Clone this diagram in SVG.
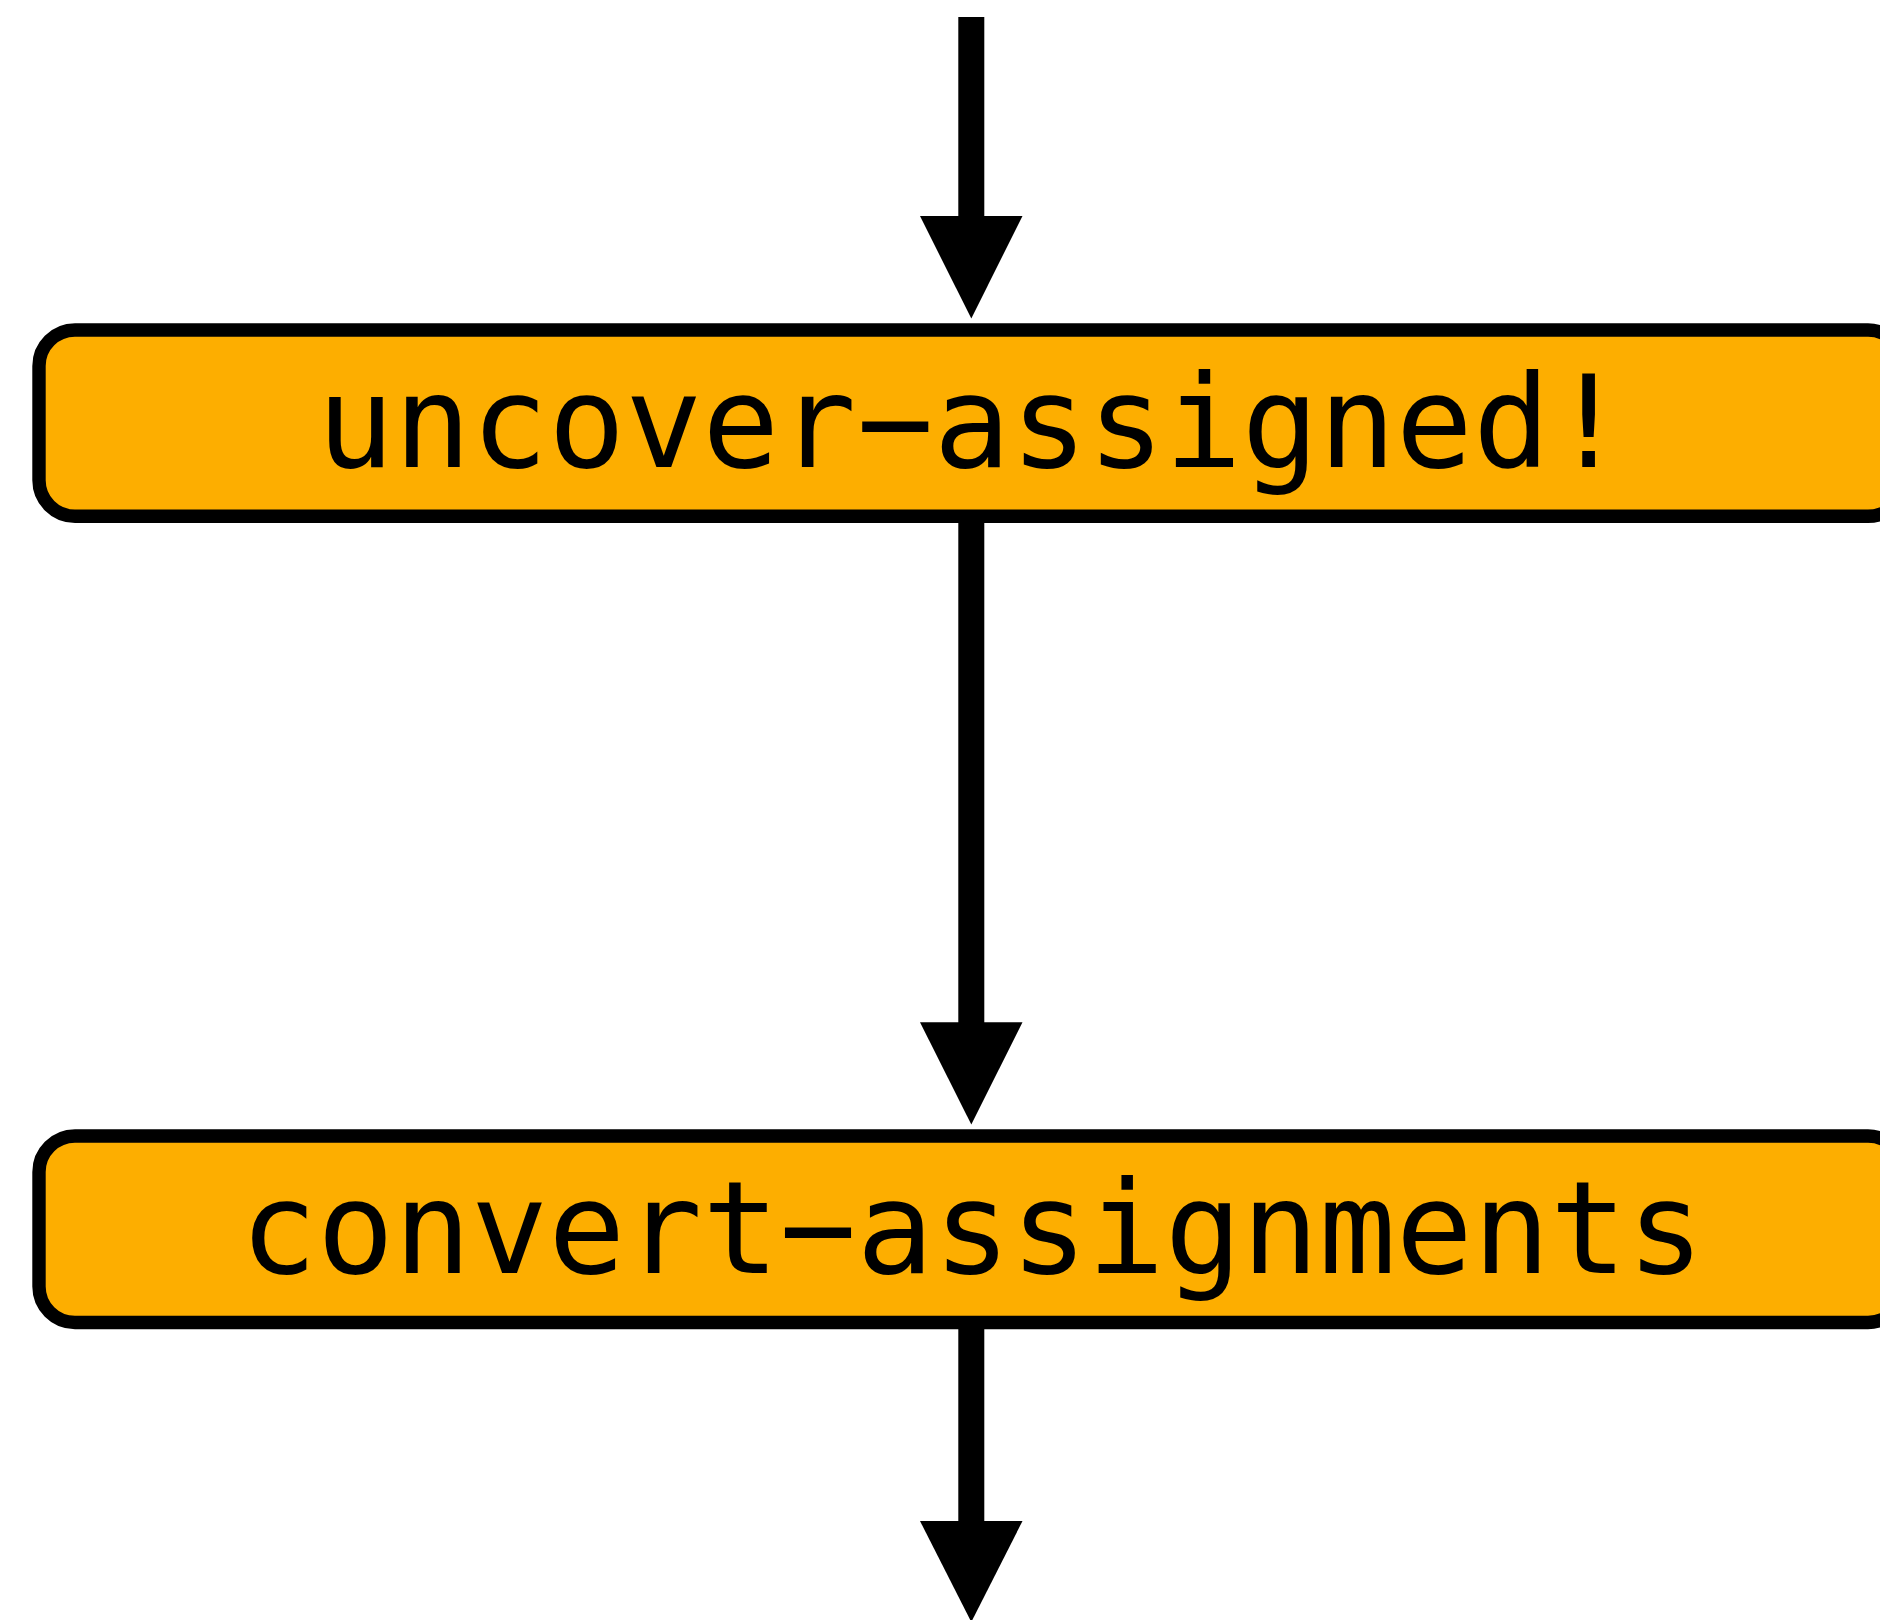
<svg xmlns="http://www.w3.org/2000/svg" width="1880" height="1620" viewBox="0 0 1880 1620">
<style>
.box{fill:#fdae00;stroke:#000;stroke-width:13.4}
.lbl{font-family:"DejaVu Sans Mono","Liberation Mono",monospace;font-size:128px;fill:#000;text-anchor:middle}
.shaft{stroke:#000;stroke-width:26;fill:none}
.head{fill:#000;stroke:none}
</style>
<rect width="1880" height="1620" fill="#fff"/>
<g id="connectors">
<line class="shaft" x1="971.3" y1="17" x2="971.3" y2="217"/>
<polygon class="head" points="920,216 1022.5,216 971.3,318.5"/>
<line class="shaft" x1="971.3" y1="516" x2="971.3" y2="1023"/>
<polygon class="head" points="920,1022.3 1022.5,1022.3 971.3,1124.5"/>
<line class="shaft" x1="971.3" y1="1322" x2="971.3" y2="1522"/>
<polygon class="head" points="920,1521 1022.5,1521 971.3,1622"/>
</g>
<g id="node-uncover-assigned">
<rect class="box" x="39" y="330" width="1865" height="186.3" rx="36" ry="36"/>
<text class="lbl" x="972" y="467">uncover−assigned!</text>
</g>
<g id="node-convert-assignments">
<rect class="box" x="39" y="1136" width="1865" height="186.5" rx="36" ry="36"/>
<text class="lbl" x="972" y="1273">convert−assignments</text>
</g>
</svg>
